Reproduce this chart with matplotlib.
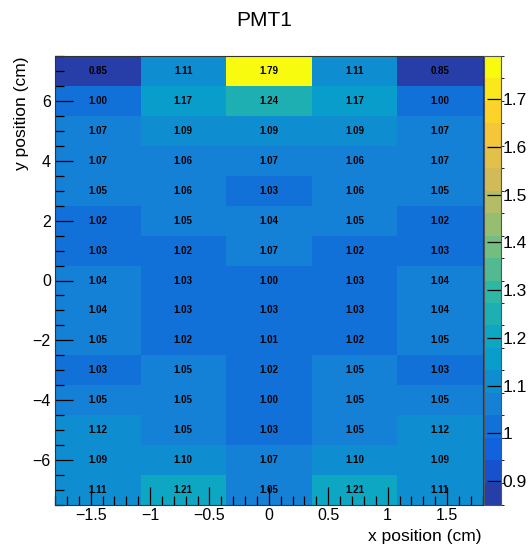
import numpy as np
import matplotlib
matplotlib.use('Agg')
import matplotlib.pyplot as plt
from matplotlib.colors import LinearSegmentedColormap, ListedColormap, BoundaryNorm
from matplotlib.ticker import MultipleLocator, FuncFormatter

plt.rcParams['font.family'] = 'Liberation Sans'

# bin centres (cm)
x_centers = [-1.44, -0.72, 0.0, 0.72, 1.44]
y_centers = [7, 6, 5, 4, 3, 2, 1, 0, -1, -2, -3, -4, -5, -6, -7]

# relative response, one row per y bin (top to bottom)
row_p7 = [0.85, 1.11, 1.79, 1.11, 0.85]
row_p6 = [1.00, 1.17, 1.24, 1.17, 1.00]
row_p5 = [1.07, 1.09, 1.09, 1.09, 1.07]
row_p4 = [1.07, 1.06, 1.07, 1.06, 1.07]
row_p3 = [1.05, 1.06, 1.03, 1.06, 1.05]
row_p2 = [1.02, 1.05, 1.04, 1.05, 1.02]
row_p1 = [1.03, 1.02, 1.07, 1.02, 1.03]
row_0 = [1.04, 1.03, 1.00, 1.03, 1.04]
row_m1 = [1.04, 1.03, 1.03, 1.03, 1.04]
row_m2 = [1.05, 1.02, 1.01, 1.02, 1.05]
row_m3 = [1.03, 1.05, 1.02, 1.05, 1.03]
row_m4 = [1.05, 1.05, 1.00, 1.05, 1.05]
row_m5 = [1.12, 1.05, 1.03, 1.05, 1.12]
row_m6 = [1.09, 1.10, 1.07, 1.10, 1.09]
row_m7 = [1.11, 1.21, 1.05, 1.21, 1.11]

z = np.array([row_p7, row_p6, row_p5, row_p4, row_p3, row_p2, row_p1, row_0,
              row_m1, row_m2, row_m3, row_m4, row_m5, row_m6, row_m7])

# ROOT kBird palette, 20 contour levels
stops = [0.0, 0.125, 0.25, 0.375, 0.5, 0.625, 0.75, 0.875, 1.0]
red = [0.2082, 0.0592, 0.0780, 0.0232, 0.1802, 0.5301, 0.8186, 0.9956, 0.9764]
green = [0.1664, 0.3599, 0.5041, 0.6419, 0.7178, 0.7492, 0.7328, 0.7862, 0.9832]
blue = [0.5293, 0.8684, 0.8385, 0.7914, 0.6425, 0.4662, 0.3499, 0.1968, 0.0539]
bird = LinearSegmentedColormap.from_list(
    'bird', list(zip(stops, zip(red, green, blue))), N=255)
ncont = 20
cmap = ListedColormap([bird(min((i + 0.99) / ncont, 1.0)) for i in range(ncont)])
zmin, zmax = z.min(), z.max()
levels = np.linspace(zmin, zmax, ncont + 1)
norm = BoundaryNorm(levels, ncont, clip=True)

xc = np.array(x_centers)
yc = np.array(y_centers)
dx = 0.72
x_edges = np.append(xc - dx / 2, xc[-1] + dx / 2)
y_edges = np.append(yc + 0.5, yc[-1] - 0.5)

fig = plt.figure(figsize=(5.29, 5.49), dpi=100)
ax = fig.add_axes([55 / 529, 1 - 505 / 549, (482.7 - 55) / 529, (505 - 56) / 549])
mesh = ax.pcolormesh(x_edges, y_edges, z, cmap=cmap, norm=norm)

for i, yv in enumerate(yc):
    for j, xv in enumerate(xc):
        ax.text(xv, yv, f'{z[i, j]:.2f}', ha='center', va='center',
                fontsize=7, fontweight='bold', color='black')

fmt = FuncFormatter(lambda v, p: f'{v:g}'.replace('-', '\u2212'))
ax.set_xlim(-1.8, 1.8)
ax.set_ylim(-7.5, 7.5)
ax.xaxis.set_major_locator(MultipleLocator(0.5))
ax.xaxis.set_minor_locator(MultipleLocator(0.1))
ax.yaxis.set_major_locator(MultipleLocator(2))
ax.yaxis.set_minor_locator(MultipleLocator(0.5))
ax.xaxis.set_major_formatter(fmt)
ax.yaxis.set_major_formatter(fmt)
ax.tick_params(which='both', direction='in', top=False, right=False,
               labelsize=11.5, color='black')
ax.tick_params(which='major', length=13, width=0.9)
ax.tick_params(which='minor', length=6.5, width=0.9)
ax.tick_params(axis='x', pad=2)
ax.tick_params(axis='y', pad=3)
for s in ax.spines.values():
    s.set_color('#333333')

# palette axis
cax = fig.add_axes([484 / 529, 1 - 505 / 549, 17 / 529, (505 - 56) / 549])
cb = fig.colorbar(mesh, cax=cax, ticks=[0.9, 1.0, 1.1, 1.2, 1.3, 1.4, 1.5, 1.6, 1.7])
cb.ax.set_yticklabels(['0.9', '1', '1.1', '1.2', '1.3', '1.4', '1.5', '1.6', '1.7'])
cb.ax.tick_params(direction='in', length=10, width=0.9, labelsize=12.5, pad=1)
cb.outline.set_edgecolor('#555555')
cb.outline.set_linewidth(0.8)

fig.text(0.5, 1 - 20 / 549, 'PMT1', ha='center', va='center', fontsize=15)
fig.text(482 / 529, 1 - 536 / 549, 'x position (cm)', ha='right', va='center', fontsize=12.5)
fig.text(22 / 529, 1 - 56 / 549, 'y position (cm)', ha='center', va='top',
         rotation=90, fontsize=12.5)

fig.savefig('out.png', dpi=100)
